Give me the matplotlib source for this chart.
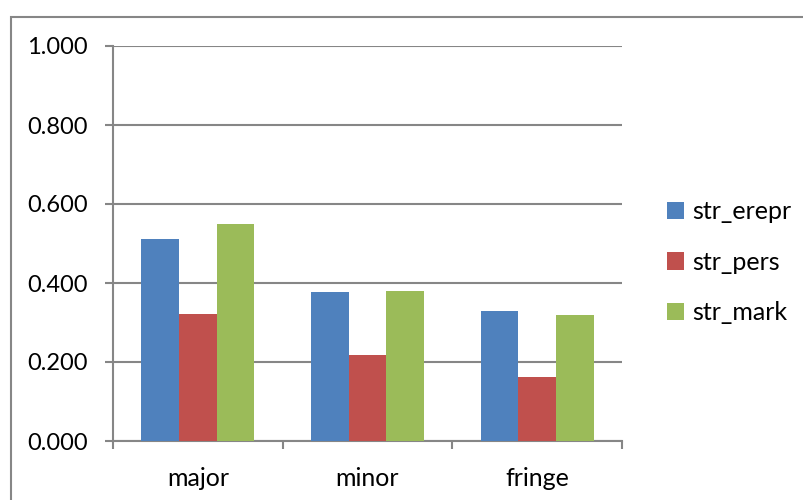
import matplotlib
matplotlib.use("Agg")
import matplotlib.pyplot as plt
import numpy as np

plt.rcParams['font.family'] = ['Lato', 'DejaVu Sans']

# strength scores per group
categories = ["major", "minor", "fringe"]
series_names = ["str_erepr", "str_pers", "str_mark"]
str_erepr = [0.511, 0.376, 0.328]
str_pers = [0.322, 0.218, 0.163]
str_mark = [0.550, 0.380, 0.319]
colors = ["#4F81BD", "#C0504D", "#9BBB59"]
grid_gray = "#868686"

fig = plt.figure(figsize=(8.04, 5.0), dpi=100)
ax = fig.add_axes([113 / 804, 1 - 441 / 500, (622 - 113) / 804, (441 - 46) / 500])

x = np.arange(len(categories))
width = 0.222
bars = []
for i, (vals, name) in enumerate(zip([str_erepr, str_pers, str_mark], series_names)):
    b = ax.bar(x + (i - 1) * width, vals, width, color=colors[i], label=name, zorder=3)
    bars.append(b)

ax.set_xlim(-0.5, len(categories) - 0.5)
ax.set_ylim(0, 1.0)
ax.set_yticks(np.arange(0, 1.01, 0.2))
ax.set_yticklabels([f"{v:.3f}" for v in np.arange(0, 1.01, 0.2)], fontsize=17)
ax.yaxis.grid(True, color=grid_gray, linewidth=1.5, zorder=0)

# category boundaries get the tick marks, centres get the labels
ax.set_xticks(np.arange(-0.5, len(categories), 1.0))
ax.set_xticklabels([])
ax.set_xticks(x, minor=True)
ax.set_xticklabels(categories, minor=True, fontsize=18)
ax.tick_params(axis="x", which="minor", length=0, pad=19)
ax.tick_params(axis="x", which="major", length=6, width=1.5, color=grid_gray, direction="out")
ax.tick_params(axis="y", length=6, width=1.5, color=grid_gray, direction="out", pad=12)

for side in ["top", "right"]:
    ax.spines[side].set_visible(False)
for side in ["left", "bottom"]:
    ax.spines[side].set_color(grid_gray)
    ax.spines[side].set_linewidth(1.5)

leg = fig.legend(handles=bars, labels=series_names, loc="center left",
                 bbox_to_anchor=(657 / 804, 1 - 262 / 500), frameon=False,
                 fontsize=18, handlelength=0.7, handleheight=0.7,
                 handletextpad=0.3, labelspacing=1.1, borderaxespad=0)

# chart area outline
fig.patches.append(plt.Rectangle((11 / 804, -0.1), 1.0, 1 - 16.5 / 500 + 0.1,
                                 transform=fig.transFigure, fill=False,
                                 edgecolor=grid_gray, linewidth=1.5))

fig.savefig("out.png", dpi=100)
